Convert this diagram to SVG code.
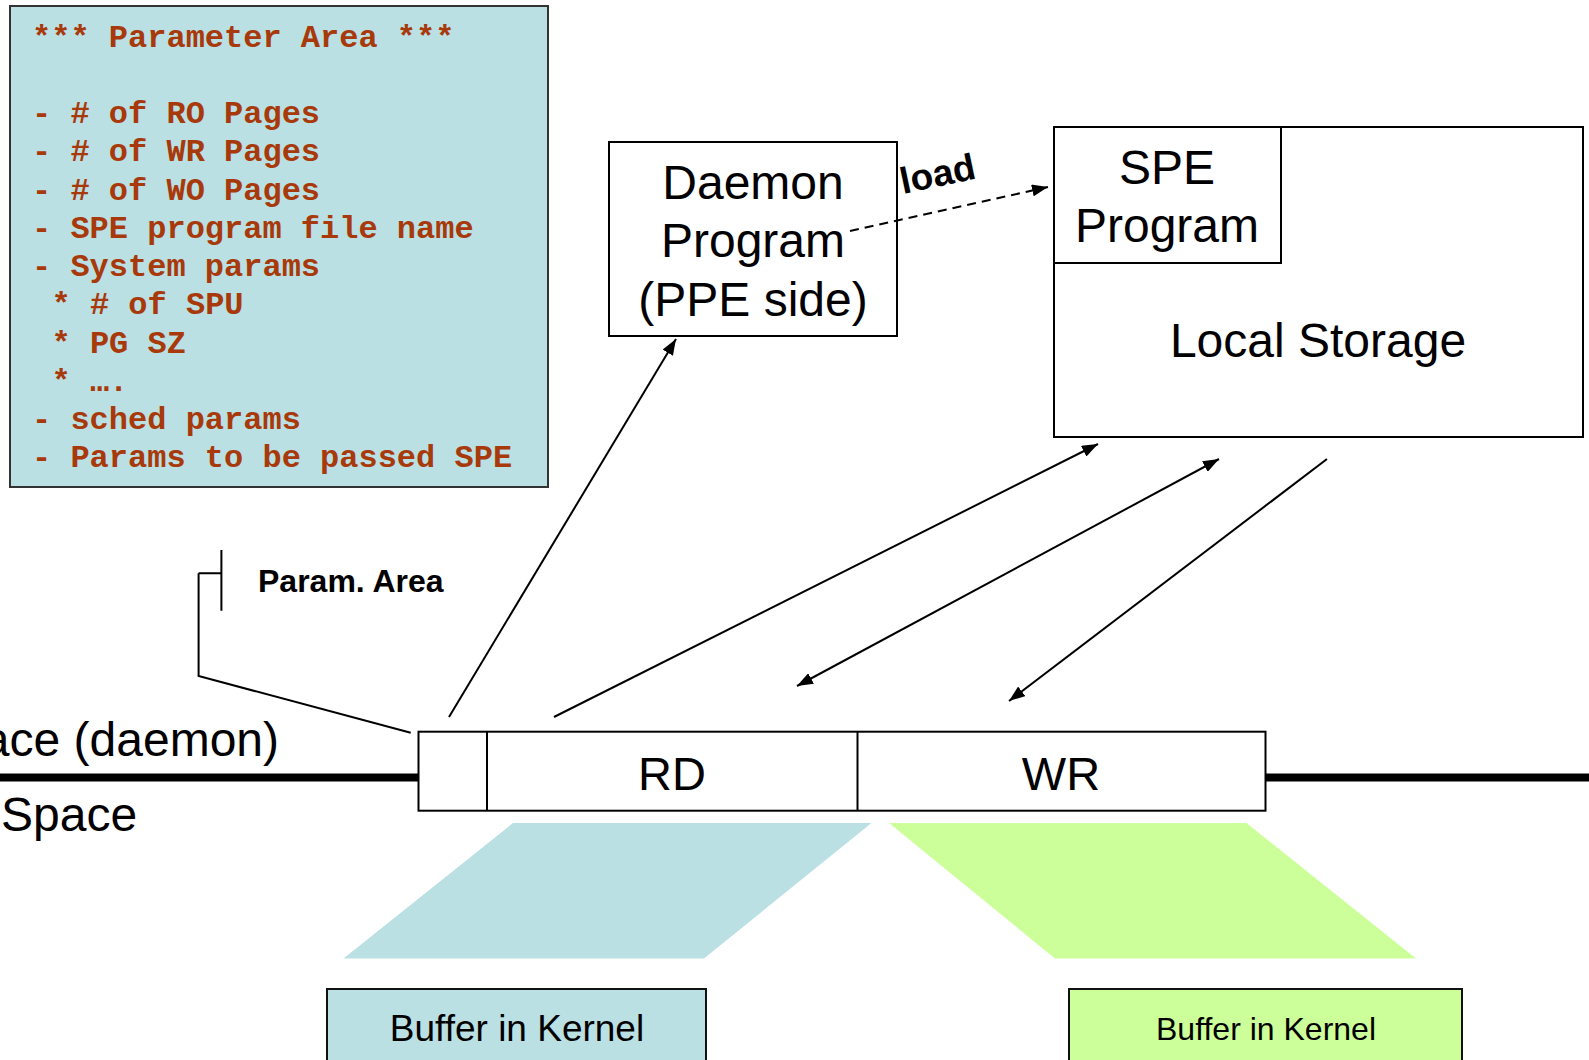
<svg xmlns="http://www.w3.org/2000/svg" width="1589" height="1060" viewBox="0 0 1589 1060">
<defs>
<style>
.box{fill:#fff;stroke:#000;stroke-width:2}
.sans{font-family:"Liberation Sans",Arial,sans-serif;fill:#000}
.big{font-size:48px}
.mono{font-family:"Liberation Mono","Courier New",monospace;font-weight:bold;font-size:32px;fill:#A8390A}
.ln{stroke:#000;stroke-width:2;fill:none}
</style>
<marker id="ah" viewBox="0 0 16 12" refX="16" refY="6" markerWidth="16" markerHeight="12" markerUnits="userSpaceOnUse" orient="auto-start-reverse">
<path d="M0,0 L16,6 L0,12 Z" fill="#000"/>
</marker>
</defs>
<rect width="1589" height="1060" fill="#fff"/>

<g id="param-area">
<rect x="10" y="6" width="538" height="481" fill="#BAE0E3" stroke="#333" stroke-width="2"/>
<text class="mono" x="32" y="46.5">*** Parameter Area ***</text>
<text class="mono" x="32" y="123">- # of RO Pages</text>
<text class="mono" x="32" y="161.3">- # of WR Pages</text>
<text class="mono" x="32" y="199.5">- # of WO Pages</text>
<text class="mono" x="32" y="237.8">- SPE program file name</text>
<text class="mono" x="32" y="276">- System params</text>
<text class="mono" x="51.5" y="314.3">* # of SPU</text>
<text class="mono" x="51.5" y="352.5">* PG SZ</text>
<text class="mono" x="51.5" y="390.8">* ….</text>
<text class="mono" x="32" y="429">- sched params</text>
<text class="mono" x="32" y="467.3">- Params to be passed SPE</text>
</g>

<g id="daemon">
<rect class="box" x="609" y="142" width="288" height="194"/>
<text class="sans big" x="753" y="199" text-anchor="middle">Daemon</text>
<text class="sans big" x="753" y="257" text-anchor="middle">Program</text>
<text class="sans big" x="753" y="316" text-anchor="middle">(PPE side)</text>
</g>

<g id="spe">
<rect class="box" x="1054" y="127" width="529" height="310"/>
<rect class="box" x="1054" y="127" width="227" height="136"/>
<text class="sans big" x="1167" y="184" text-anchor="middle">SPE</text>
<text class="sans big" x="1167" y="242" text-anchor="middle">Program</text>
<text class="sans big" x="1318" y="357" text-anchor="middle">Local Storage</text>
</g>

<g id="space-labels">
<line x1="0" y1="777.5" x2="420" y2="777.5" stroke="#000" stroke-width="8"/>
<line x1="1265" y1="777.5" x2="1589" y2="777.5" stroke="#000" stroke-width="8"/>
<text class="sans big" x="279" y="756" text-anchor="end">ace (daemon)</text>
<text class="sans big" x="1" y="831">Space</text>
</g>

<g id="rdwr">
<rect class="box" x="418.5" y="731.7" width="847" height="79"/>
<line class="ln" x1="487" y1="731.7" x2="487" y2="810.7"/>
<line class="ln" x1="857.5" y1="731.7" x2="857.5" y2="810.7"/>
<text class="sans" x="672" y="790" font-size="47" text-anchor="middle">RD</text>
<text class="sans" x="1061" y="790" font-size="47" text-anchor="middle">WR</text>
</g>

<g id="param-label">
<text class="sans" x="258" y="592" font-size="32" font-weight="bold">Param. Area</text>
</g>

<g id="buffers">
<polygon points="513,823 871.5,823 704,958.5 343.5,958.5" fill="#BAE0E3"/>
<polygon points="889,823 1246.5,823 1416,958.5 1055,958.5" fill="#CCFF99"/>
<g id="buffer-rd">
<rect x="327" y="989" width="379" height="80" fill="#BAE0E3" stroke="#111" stroke-width="2"/>
<text class="sans" x="517" y="1041" font-size="37" text-anchor="middle">Buffer in Kernel</text>
</g>
<g id="buffer-wr">
<rect x="1069" y="989" width="393" height="80" fill="#CCFF99" stroke="#111" stroke-width="2"/>
<text class="sans" x="1266" y="1040" font-size="32" text-anchor="middle">Buffer in Kernel</text>
</g>
</g>

<g id="connectors">
<path class="ln" d="M221.4,550 V610.7 M198.6,573.3 H221.4 M198.6,573.3 V676 L410.7,732.7"/>
<line class="ln" x1="449" y1="717" x2="676" y2="339" marker-end="url(#ah)"/>
<line class="ln" x1="554" y1="717" x2="1098" y2="444" marker-end="url(#ah)"/>
<line class="ln" x1="1219" y1="459" x2="797" y2="686" marker-start="url(#ah)" marker-end="url(#ah)"/>
<line class="ln" x1="1327" y1="459" x2="1009" y2="701" marker-end="url(#ah)"/>
<line x1="850" y1="231" x2="1048" y2="187" stroke="#000" stroke-width="2" stroke-dasharray="9,6" marker-end="url(#ah)"/>
<text class="sans" x="0" y="0" font-size="37" font-weight="bold" transform="translate(903,194) rotate(-12)">load</text>
</g>
</svg>
